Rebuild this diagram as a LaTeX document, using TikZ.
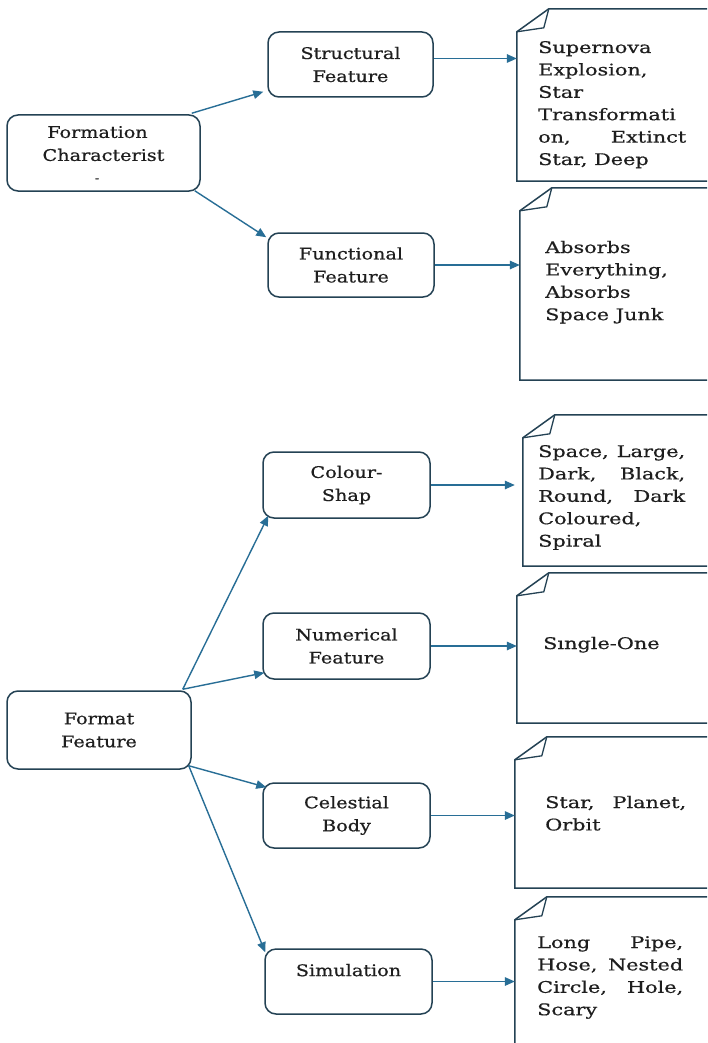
\documentclass[tikz,border=0pt]{standalone}
\usepackage{fontspec}
\setmainfont{DejaVu Serif}[FakeStretch=1.2,FakeBold=0.6]
\newfontfamily\docfont{DejaVu Serif}[FakeStretch=1.3,FakeBold=0.6]
\usetikzlibrary{arrows.meta,calc}
\definecolor{edge}{RGB}{36,66,84}
\definecolor{flow}{RGB}{40,110,150}
\definecolor{ink}{RGB}{30,30,30}
\newcommand{\jline}[2]{\makebox[#1][s]{#2}}
\begin{document}
\begin{tikzpicture}[x=1pt,y=-1pt,
  featbox/.style={draw=edge, line width=1.5pt, rounded corners=11pt, fill=white,
    inner sep=0pt, align=center, text=ink,
    font=\fontsize{16}{23}\selectfont},
  docarea/.style={inner sep=0pt},
  docline/.style={draw=edge, line width=1.5pt, line join=miter},
  doctext/.style={inner sep=0pt, anchor=base west, text=ink},
  flow/.style={draw=flow, line width=1.4pt, -{Triangle[length=10pt,width=8.5pt]}}]

\clip (0,0) rectangle (707,1043);
\fill[white] (0,0) rectangle (707,1043);

% ---------- upper tree ----------
\node[featbox, minimum width=193pt, minimum height=76pt] (fc) at (103.5,153)
  {Formation\hspace*{12pt}\\Characterist\hspace*{12pt}\\[-4pt]\phantom{X}};
\node[inner sep=0pt, text=ink, font=\fontsize{10}{10}\selectfont] (fcdash) at (97,180) {-};
\node[featbox, minimum width=165pt, minimum height=65pt] (sf) at (350.5,64.5) {Structural\\Feature};
\node[featbox, minimum width=166pt, minimum height=64pt] (ff) at (351,265) {Functional\\Feature};

% ---------- lower tree ----------
\node[featbox, minimum width=184pt, minimum height=78pt] (fm) at (99,730) {Format\\Feature};
\node[featbox, minimum width=167pt, minimum height=66pt] (cs) at (346.5,485) {Colour-\\Shap};
\node[featbox, minimum width=167pt, minimum height=66pt] (nf) at (346.5,646) {Numerical\\Feature};
\node[featbox, minimum width=167pt, minimum height=65pt] (cb) at (346.5,815.5) {Celestial\\Body};
\node[featbox, minimum width=167pt, minimum height=65pt] (si) at (348.5,981.5) {Simulation\\\phantom{X}};

% ---------- document sheets (folded top-left corner) ----------
\node[docarea, minimum width=223pt, minimum height=172pt] (d1) at (628.5,95) {};
\node[docarea, minimum width=220pt, minimum height=192pt] (d2) at (630,284) {};
\node[docarea, minimum width=217pt, minimum height=151pt] (d3) at (631.5,490.5) {};
\node[docarea, minimum width=223pt, minimum height=150pt] (d4) at (628.5,648) {};
\node[docarea, minimum width=225pt, minimum height=151pt] (d5) at (627.5,812.5) {};
\node[docarea, minimum width=225pt, minimum height=200pt] (d6) at (627.5,997) {};

\foreach \d in {d1,d2,d3,d4,d5,d6}{
  \draw[docline] (\d.south east) -- (\d.south west) -- ($(\d.north west)+(0,23)$)
    -- ($(\d.north west)+(32,0)$) -- (\d.north east);
  \draw[docline, line width=1.3pt] ($(\d.north west)+(0,23)$) -- ($(\d.north west)+(27,19)$)
    -- ($(\d.north west)+(32,0)$);
}

% ---------- sheet texts ----------
\begin{scope}[font=\docfont\fontsize{16}{22.4}\selectfont]
\node[doctext] (t1) at (538,53) {\parbox[t]{148pt}{Supernova\\Explosion,\\Star\\Transformati\\
  \jline{148pt}{on, Extinct}\\Star, Deep}};
\node[doctext] (t2) at (545,253) {\parbox[t]{148pt}{Absorbs\\Everything,\\Absorbs\\Space Junk}};
\node[doctext] (t3) at (538,457) {\parbox[t]{148pt}{\jline{147pt}{Space, Large,}\\
  \jline{147pt}{Dark, Black,}\\\jline{147pt}{Round, Dark}\\Coloured,\\Spiral}};
\node[doctext] (t4) at (543,649) {Sıngle-One};
\node[doctext] (t5) at (545,808) {\parbox[t]{148pt}{\jline{141pt}{Star, Planet,}\\Orbit}};
\node[doctext] (t6) at (537,948) {\parbox[t]{148pt}{\jline{146pt}{Long Pipe,}\\
  \jline{146pt}{Hose, Nested}\\\jline{146pt}{Circle, Hole,}\\Scary}};
\end{scope}

% ---------- connectors ----------
\draw[flow] ($(fc.north east)+(-9,-1)$) -- ($(sf.south west)+(-4,-6)$);
\draw[flow] ($(fc.south east)+(-6,-1)$) -- ($(ff.north west)+(-1,5)$);

\draw[flow] ($(fm.north east)+(-9,-1)$) -- ($(cs.south west)+(6,-3)$);
\draw[flow] ($(fm.north east)+(-9,-1)$) -- ($(nf.south west)+(2,-7)$);
\draw[flow] ($(fm.south east)+(-3,-4)$) -- ($(cb.north west)+(4,5)$);
\draw[flow] ($(fm.south east)+(-3,-4)$) -- ($(si.north west)+(1,4)$);

\coordinate (s1) at ($(sf.east)+(0,-6)$);
\draw[flow] (s1) -- (s1 -| d1.west);
\draw[flow] (ff.east) -- (ff.east -| d2.west);
\draw[flow] (cs.east) -- ($(cs.east -| d3.west)+(-8,0)$);
\draw[flow] (nf.east) -- (nf.east -| d4.west);
\draw[flow] (cb.east) -- (cb.east -| d5.west);
\draw[flow] (si.east) -- (si.east -| d6.west);
\end{tikzpicture}
\end{document}
